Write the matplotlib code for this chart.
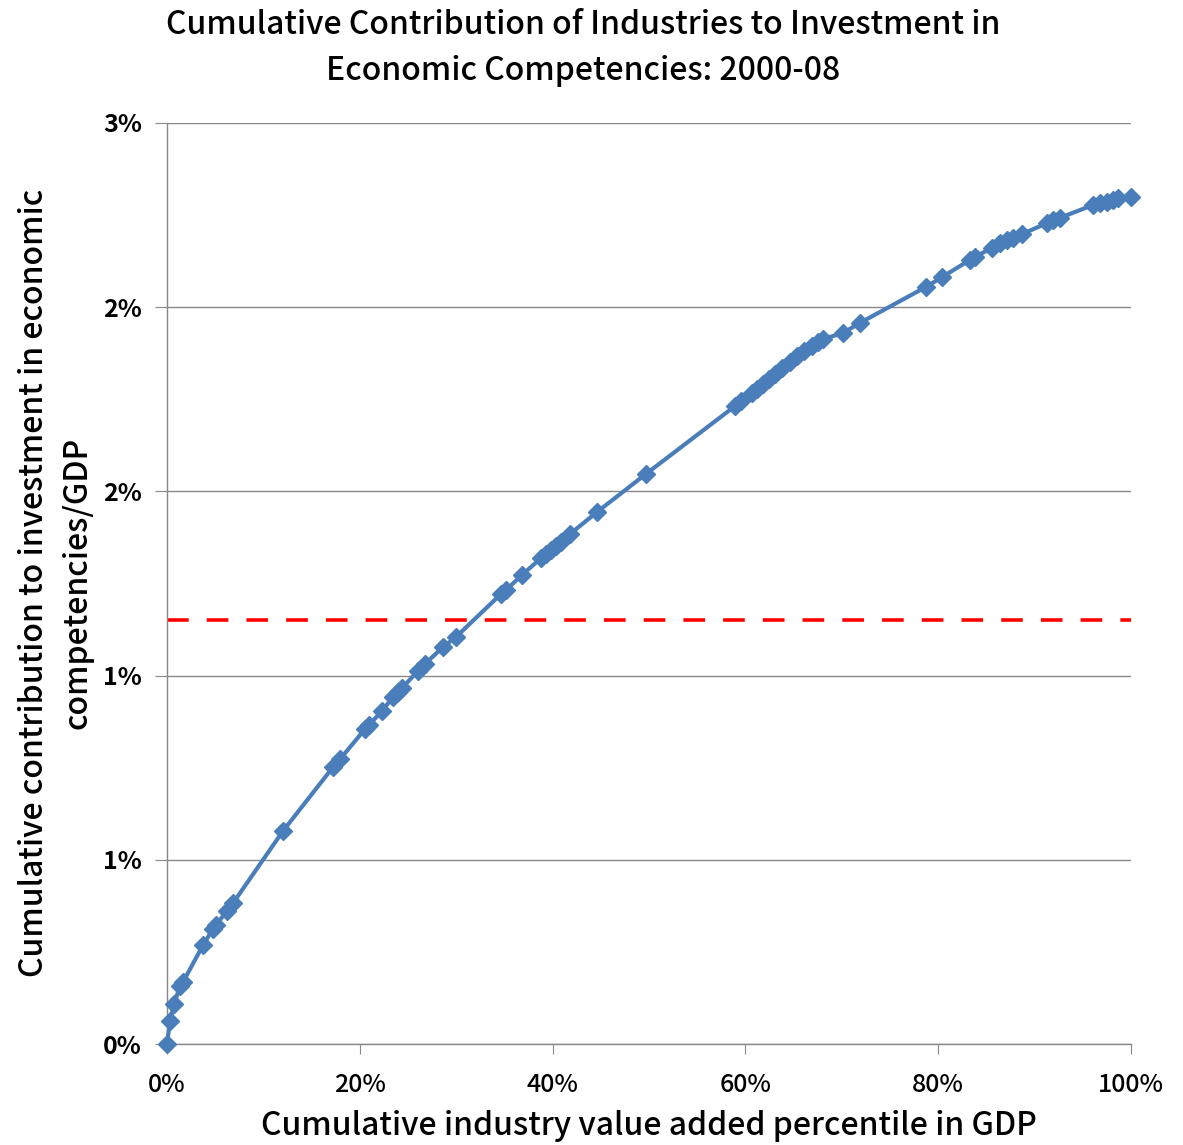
import matplotlib
matplotlib.use("Agg")
import matplotlib.pyplot as plt

# cumulative share of value added (%) vs cumulative contribution to EC investment / GDP (%)
va_pct = [0.0, 0.31, 0.73, 1.35, 1.66, 3.73, 4.77, 5.08, 6.22, 6.85,
          12.03, 17.22, 17.95, 20.54, 20.95, 22.30, 23.44, 23.96, 24.38, 26.04,
          26.76, 28.63, 29.98, 34.65, 35.17, 36.83, 38.80, 39.32, 39.83, 40.35,
          40.87, 41.80, 44.61, 49.69, 58.92, 59.54, 60.68, 61.20, 61.83, 62.45,
          63.07, 63.80, 64.63, 65.35, 66.08, 66.91, 67.53, 68.05, 70.12, 71.89,
          78.73, 80.39, 83.30, 83.82, 85.58, 86.41, 87.14, 87.76, 88.69, 91.29,
          91.91, 92.63, 96.06, 96.78, 97.51, 98.13, 98.65, 100.0]
ec_pct = [0.000, 0.075, 0.130, 0.189, 0.202, 0.322, 0.375, 0.388, 0.433, 0.459,
          0.694, 0.902, 0.928, 1.026, 1.039, 1.085, 1.130, 1.147, 1.160, 1.215,
          1.238, 1.293, 1.326, 1.466, 1.479, 1.528, 1.583, 1.596, 1.609, 1.622,
          1.635, 1.661, 1.733, 1.857, 2.078, 2.094, 2.121, 2.134, 2.150, 2.166,
          2.182, 2.202, 2.221, 2.241, 2.257, 2.274, 2.287, 2.296, 2.316, 2.349,
          2.466, 2.498, 2.554, 2.564, 2.593, 2.609, 2.619, 2.625, 2.638, 2.674,
          2.684, 2.691, 2.733, 2.739, 2.743, 2.749, 2.756, 2.759]
half_total = 1.38

x_ticks = [0, 20, 40, 60, 80, 100]
y_ticks = [0.0, 0.6, 1.2, 1.8, 2.4, 3.0]

plt.rcParams["font.family"] = ["Noto Sans CJK JP", "DejaVu Sans"]

fig = plt.figure(figsize=(11.83, 11.45), dpi=100)
ax = fig.add_axes([0.1412, 0.0882, 0.8149, 0.8044])

ax.plot(va_pct, ec_pct, color="#4a7ebb", lw=3.0, marker="D", ms=9,
        mec="#4a7ebb", mfc="#4a7ebb", zorder=3, clip_on=False)
ax.axhline(half_total, color="#ff0000", lw=2.6, ls=(0, (6, 5)), zorder=2)

ax.set_xlim(0, 100)
ax.set_ylim(0, 3.0)
ax.set_xticks(x_ticks)
ax.set_xticklabels([f"{v}%" for v in x_ticks], fontsize=18, fontweight="medium")
ax.set_yticks(y_ticks)
ax.set_yticklabels([f"{v:.0f}%" for v in y_ticks], fontsize=18, fontweight="bold")
ax.yaxis.grid(True, color="#888888", lw=1.0)
ax.set_axisbelow(True)
for s in ("top", "right"):
    ax.spines[s].set_visible(False)
for s in ("left", "bottom"):
    ax.spines[s].set_color("#888888")
    ax.spines[s].set_linewidth(1.0)
ax.tick_params(axis="y", length=9, color="#888888", pad=9)
ax.tick_params(axis="x", length=7, color="#888888", pad=13)

fig.text(649 / 1183, 1 - 1126 / 1145, "Cumulative industry value added percentile in GDP",
         ha="center", va="center", fontsize=23, fontweight="medium")
fig.text(56 / 1183, 1 - 583 / 1145,
         "Cumulative contribution to investment in economic\ncompetencies/GDP",
         rotation=90, ha="center", va="center", fontsize=23, fontweight="medium",
         linespacing=1.45)

fig.text(583 / 1183, 1 - 48 / 1145, "Cumulative Contribution of Industries to Investment in\n"
         "Economic Competencies: 2000-08", ha="center", va="center",
         fontsize=23, fontweight="medium", linespacing=1.55)

fig.savefig("out.png", dpi=100)
